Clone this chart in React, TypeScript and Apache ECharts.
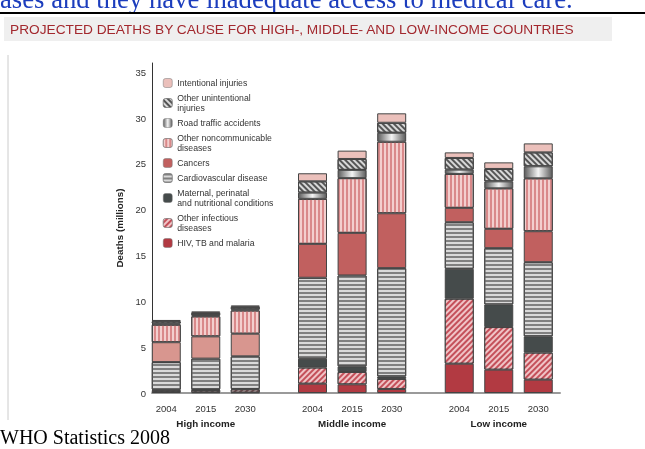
import React, { useEffect, useRef } from 'react';
import * as echarts from 'echarts';

const years = ['2004', '2015', '2030'];
const groups = ['High income', 'Middle income', 'Low income'];
const yTicks = [0, 5, 10, 15, 20, 25, 30, 35];

// stacking order: bottom to top
const causes = [
  'HIV, TB and malaria',
  'Other infectious diseases',
  'Maternal, perinatal and nutritional conditions',
  'Cardiovascular disease',
  'Cancers',
  'Other noncommunicable diseases',
  'Road traffic accidents',
  'Other unintentional injuries',
  'Intentional injuries',
];

// values in millions: High 2004/2015/2030, Middle 2004/2015/2030, Low 2004/2015/2030
const hivTbMalaria = [0.1, 0.08, 0.06, 1.02, 0.95, 0.44, 3.2, 2.55, 1.46];
const otherInfectious = [0.2, 0.25, 0.32, 1.75, 1.34, 1.09, 7.08, 4.64, 2.94];
const maternal = [0.07, 0.07, 0.06, 0.98, 0.62, 0.28, 3.27, 2.47, 1.78];
const cardiovascular = [3.0, 3.35, 3.56, 8.82, 9.91, 11.81, 5.08, 6.14, 8.09];
const cancers = [2.17, 2.43, 2.47, 3.7, 4.65, 5.99, 1.57, 2.11, 3.38];
const otherNoncommunicable = [1.91, 2.18, 2.53, 4.91, 5.97, 7.8, 3.7, 4.42, 5.77];
const roadTraffic = [0.13, 0.13, 0.13, 0.68, 0.9, 0.98, 0.47, 0.76, 1.31];
const otherUnintentional = [0.25, 0.25, 0.27, 1.23, 1.19, 1.09, 1.27, 1.35, 1.52];
const intentional = [0.14, 0.16, 0.15, 0.88, 0.91, 1.03, 0.61, 0.72, 0.98];

const valuesByCause = [
  hivTbMalaria,
  otherInfectious,
  maternal,
  cardiovascular,
  cancers,
  otherNoncommunicable,
  roadTraffic,
  otherUnintentional,
  intentional,
];

const legendLabels: Record<string, string> = {
  'Intentional injuries': 'Intentional injuries',
  'Other unintentional injuries': 'Other unintentional\ninjuries',
  'Road traffic accidents': 'Road traffic accidents',
  'Other noncommunicable diseases': 'Other noncommunicable\ndiseases',
  Cancers: 'Cancers',
  'Cardiovascular disease': 'Cardiovascular disease',
  'Maternal, perinatal and nutritional conditions': 'Maternal, perinatal\nand nutritional conditions',
  'Other infectious diseases': 'Other infectious\ndiseases',
  'HIV, TB and malaria': 'HIV, TB and malaria',
};

const pattern = (base: string, line: string, rotation: number, on = 1.2, off = 1.6) => ({
  color: base,
  decal: {
    symbol: 'rect',
    symbolSize: 1,
    dashArrayX: [1, 0],
    dashArrayY: [on, off],
    rotation,
    color: line,
  },
});

const roadGradient = new echarts.graphic.LinearGradient(0, 0, 1, 0, [
  { offset: 0, color: '#5c5c5c' },
  { offset: 0.5, color: '#f4f4f4' },
  { offset: 1, color: '#5c5c5c' },
]);

const causeStyles: any[] = [
  { color: '#b23a42' },
  pattern('#c4505a', 'rgba(255,235,235,0.75)', -Math.PI / 4),
  { color: '#454b4b' },
  pattern('#dadada', '#808080', 0),
  { color: '#c1605f' },
  pattern('#f3cfce', '#d9898a', Math.PI / 2),
  { color: roadGradient },
  pattern('#d8d8d8', '#555555', Math.PI / 4),
  { color: '#ebc0bb' },
];

const highCancerColor = '#d8968f';

export default function App() {
  const ref = useRef<HTMLDivElement>(null);

  useEffect(() => {
    const chart = echarts.init(ref.current!, null, { renderer: 'svg' });

    const groupGrids = [
      { left: 146.5, width: 118.5 },
      { left: 292.7, width: 118.8 },
      { left: 439.5, width: 118.5 },
    ];

    const grid: any[] = [{ left: 152, top: 63, width: 408, height: 330 }];
    groupGrids.forEach((g) => grid.push({ left: g.left, width: g.width, top: 63, height: 330 }));

    const xAxis: any[] = [
      {
        gridIndex: 0,
        type: 'value',
        min: 0,
        max: 1,
        axisLine: { show: true, lineStyle: { color: '#9a9a9a', width: 2 } },
        axisTick: { show: false },
        axisLabel: { show: false },
        splitLine: { show: false },
      },
    ];
    const yAxis: any[] = [
      {
        gridIndex: 0,
        type: 'value',
        min: 0,
        max: 36,
        interval: 5,
        axisLine: { show: true, lineStyle: { color: '#333', width: 1 } },
        axisTick: { show: false },
        splitLine: { show: false },
        axisLabel: {
          fontSize: 9.5,
          color: '#333',
          margin: 6,
          formatter: (v: number) => (yTicks.includes(v) ? String(v) : ''),
        },
        name: 'Deaths (millions)',
        nameLocation: 'middle',
        nameGap: 24,
        nameTextStyle: { fontSize: 9.8, fontWeight: 'bold', color: '#222' },
      },
    ];

    groups.forEach((gname, gi) => {
      xAxis.push({
        gridIndex: gi + 1,
        type: 'category',
        data: years,
        axisLine: { show: false },
        axisTick: { show: false },
        axisLabel: { fontSize: 9.5, color: '#333', margin: 10 },
        name: gname,
        nameLocation: 'middle',
        nameGap: 25,
        nameTextStyle: { fontSize: 9.8, fontWeight: 'bold', color: '#222' },
      });
      yAxis.push({ gridIndex: gi + 1, type: 'value', min: 0, max: 36, show: false });
    });

    const series: any[] = [];
    causes.forEach((cause, ci) => {
      groups.forEach((_, gi) => {
        const vals = valuesByCause[ci].slice(gi * 3, gi * 3 + 3);
        const data = vals.map((v) =>
          cause === 'Cancers' && gi === 0 ? { value: v, itemStyle: { color: highCancerColor } } : v
        );
        series.push({
          type: 'bar',
          name: cause,
          xAxisIndex: gi + 1,
          yAxisIndex: gi + 1,
          stack: 'g' + gi,
          barWidth: 29,
          data,
          itemStyle: { ...causeStyles[ci], borderColor: '#444', borderWidth: 1 },
        });
      });
    });

    const option: any = {
      animation: false,
      textStyle: { fontFamily: '"Liberation Sans", Arial, sans-serif' },
      grid,
      xAxis,
      yAxis,
      series,
      legend: {
        orient: 'vertical',
        left: 163,
        top: 78,
        padding: 0,
        itemWidth: 9,
        itemHeight: 9,
        itemGap: 5,
        selectedMode: false,
        data: causes.slice().reverse(),
        formatter: (name: string) => legendLabels[name] || name,
        textStyle: { fontSize: 8.7, lineHeight: 10, color: '#333' },
        itemStyle: { borderColor: '#777', borderWidth: 0.5 },
      },
      graphic: [
        {
          type: 'text',
          left: 0,
          top: -15,
          style: {
            text: 'ases and they have inadequate access to medical care.',
            font: '26.7px "Liberation Serif", "Times New Roman", serif',
            fill: '#1c3dbd',
          },
        },
        {
          type: 'line',
          shape: { x1: 0, y1: 13, x2: 645, y2: 13 },
          style: { stroke: '#000', lineWidth: 2 },
        },
        {
          type: 'rect',
          shape: { x: 4, y: 17, width: 608, height: 24 },
          style: { fill: '#efefef' },
        },
        {
          type: 'text',
          x: 10,
          y: 29,
          style: {
            text: 'PROJECTED DEATHS BY CAUSE FOR HIGH-, MIDDLE- AND LOW-INCOME COUNTRIES',
            font: '13.7px "Liberation Sans", Arial, sans-serif',
            fill: '#a3282e',
            verticalAlign: 'middle',
          },
        },
        {
          type: 'line',
          shape: { x1: 8, y1: 55, x2: 8, y2: 420 },
          style: { stroke: '#cccccc', lineWidth: 1 },
        },
        {
          type: 'text',
          x: 0,
          y: 447,
          style: {
            text: 'WHO Statistics 2008',
            font: '20px "Liberation Serif", "Times New Roman", serif',
            fill: '#000',
            verticalAlign: 'bottom',
          },
        },
      ],
    };

    chart.setOption(option);
    return () => chart.dispose();
  }, []);

  return <div ref={ref} style={{ position: 'fixed', left: 0, top: 0, width: 645, height: 449 }} />;
}
